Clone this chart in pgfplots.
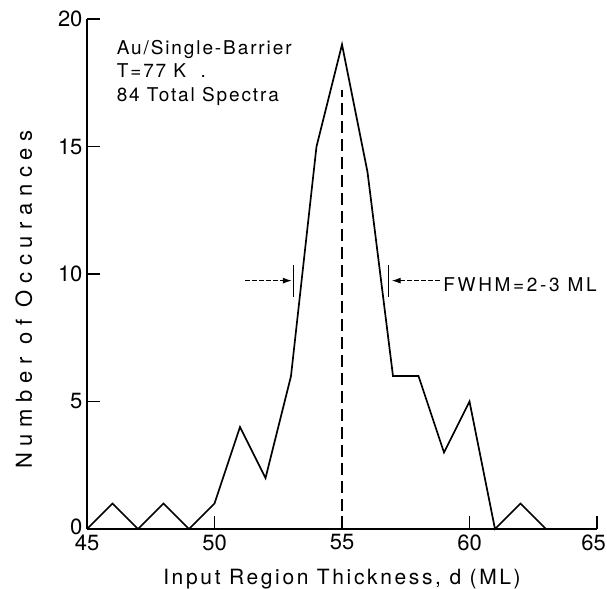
\documentclass[border=0pt]{standalone}
\usepackage{fontspec}
\setmainfont{TeX Gyre Heros}
\newfontfamily\txtfont{TeX Gyre Heros}[LetterSpace=10]
\newfontfamily\fwfont{TeX Gyre Heros}[LetterSpace=14]
\newfontfamily\xlfont{TeX Gyre Heros}[LetterSpace=12.5]
\newfontfamily\ylfont{TeX Gyre Heros}[LetterSpace=30]
\usepackage{pgfplots}
\pgfplotsset{compat=1.18}
\usetikzlibrary{arrows.meta}
\begin{document}
\begin{tikzpicture}
\useasboundingbox (0,0) rectangle (607bp,589bp);
\begin{axis}[
  at={(87bp,60bp)}, anchor=south west,
  scale only axis, width=510bp, height=510bp,
  xmin=45, xmax=65, ymin=0, ymax=20,
  axis x line*=bottom, axis y line*=left,
  axis line style={line width=1.6bp},
  xtick={45,50,...,65}, ytick={0,5,...,20},
  xticklabels={45,50,55,60,{65\kern7bp}},
  yticklabels={{\raisebox{5bp}{0}},5,10,15,20},
  tick align=inside, major tick length=13bp,
  tick style={line width=1.4bp, black},
  /pgf/number format/assume math mode=true,
  ticklabel style={font=\fontsize{22bp}{22bp}\selectfont},
  xticklabel style={yshift=-2bp},
  yticklabel style={xshift=-1bp},
  xlabel={\xlfont Input Region Thickness, d (ML)},
  xlabel style={at={([yshift=-55bp]axis description cs:0.5,0)}, anchor=base, font=\fontsize{21bp}{21bp}\selectfont},
  ylabel={\ylfont Number of Occurances},
  ylabel style={at={([xshift=-55bp]axis description cs:0,0.45)}, anchor=base, font=\fontsize{22bp}{22bp}\selectfont},
  clip=false,
]
\addplot[black, line width=1.7bp, sharp plot] coordinates {
(45,0) (46,1) (47,0) (48,1) (49,0) (50,1) (51,4) (52,2) (53,6) (54,15)
(55,19) (56,14) (57,6) (58,6) (59,3) (60,5) (61,0) (62,1) (63,0)
};
\addplot[black, line width=1.5bp, dash pattern=on 12bp off 6bp] coordinates {(55,0) (55,17.2)};
\addplot[black, line width=1.5bp] coordinates {(53.09,9.11) (53.09,10.35)};
\addplot[black, line width=1.5bp] coordinates {(56.82,9.11) (56.82,10.35)};
\addplot[black, line width=1bp, dash pattern=on 5bp off 2bp, -{Latex[length=9bp,width=6bp]}] coordinates {(51.2,9.74) (53.03,9.74)};
\addplot[black, line width=1bp, dash pattern=on 5bp off 2bp, -{Latex[length=9bp,width=6bp]}] coordinates {(58.84,9.74) (56.95,9.74)};
\node[anchor=base west, inner sep=0pt, font=\fontsize{19bp}{19bp}\fwfont] at (axis cs:58.97,9.31) {FWHM=2-3 ML};
\node[anchor=base west, inner sep=0pt, font=\fontsize{19bp}{19bp}\txtfont] at (axis cs:46.16,18.59) {Au/Single-Barrier};
\node[anchor=base west, inner sep=0pt, font=\fontsize{19bp}{19bp}\txtfont] at (axis cs:46.16,17.70) {T=77 K \ .};
\node[anchor=base west, inner sep=0pt, font=\fontsize{19bp}{19bp}\txtfont] at (axis cs:46.16,16.78) {84 Total Spectra};
\end{axis}
\end{tikzpicture}
\end{document}
